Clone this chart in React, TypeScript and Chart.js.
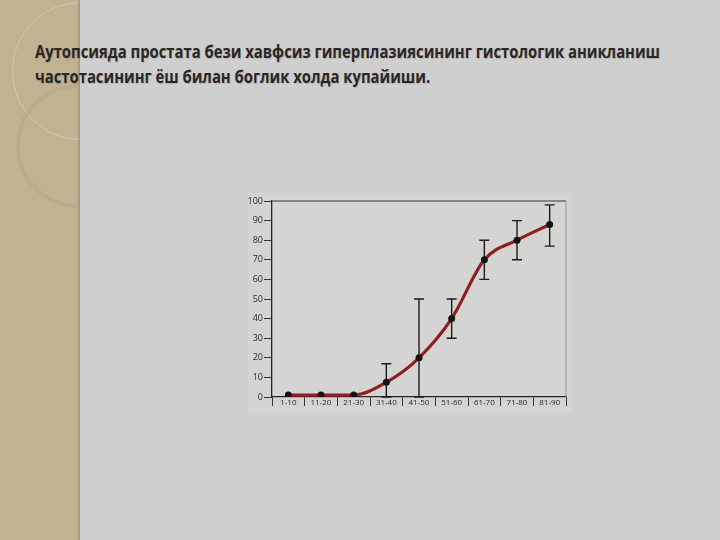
import React, { useEffect, useLayoutEffect, useRef } from "react";
import { Chart, registerables } from "chart.js";

Chart.register(...registerables);

const titleLines = [
  "Аутопсияда простата бези хавфсиз гиперплазиясининг гистологик аникланиш",
  "частотасининг ёш билан боглик холда купайиши.",
];
const categories = ["1-10", "11-20", "21-30", "31-40", "41-50", "51-60", "61-70", "71-80", "81-90"];
const frequency = [1, 1, 1, 7.5, 20, 40, 70, 80, 88];
const errorLow: (number | null)[] = [null, null, null, 0, 0, 30, 60, 70, 77];
const errorHigh: (number | null)[] = [null, null, null, 17, 50, 50, 80, 90, 98];
const yTickValues = [0, 10, 20, 30, 40, 50, 60, 70, 80, 90, 100];

const errorBarPlugin = {
  id: "errorBars",
  beforeDatasetsDraw(chart: any) {
    const { ctx, scales } = chart;
    const xs = scales.x;
    const ys = scales.y;
    ctx.save();
    ctx.strokeStyle = "#1e1a1a";
    ctx.lineWidth = 1.4;
    const cap = 5;
    categories.forEach((c, i) => {
      const lo = errorLow[i];
      const hi = errorHigh[i];
      if (lo == null || hi == null) return;
      const x = xs.getPixelForValue(i);
      const y1 = ys.getPixelForValue(lo);
      const y2 = ys.getPixelForValue(hi);
      ctx.beginPath();
      ctx.moveTo(x, y1);
      ctx.lineTo(x, y2);
      ctx.moveTo(x - cap, y1);
      ctx.lineTo(x + cap, y1);
      ctx.moveTo(x - cap, y2);
      ctx.lineTo(x + cap, y2);
      ctx.stroke();
    });
    ctx.restore();
  },
  afterDraw(chart: any) {
    const { ctx, chartArea } = chart;
    ctx.save();
    ctx.strokeStyle = "#3a3434";
    ctx.lineWidth = 1.2;
    ctx.beginPath();
    ctx.moveTo(chartArea.left, chartArea.top);
    ctx.lineTo(chartArea.right, chartArea.top);
    ctx.stroke();
    ctx.strokeStyle = "#9a9696";
    ctx.lineWidth = 1;
    ctx.beginPath();
    ctx.moveTo(chartArea.right, chartArea.top);
    ctx.lineTo(chartArea.right, chartArea.bottom);
    ctx.stroke();
    ctx.restore();
  },
};

export default function App() {
  const canvasRef = useRef<HTMLCanvasElement | null>(null);
  const titleRef = useRef<HTMLDivElement | null>(null);

  useLayoutEffect(() => {
    document.body.style.margin = "0";
    const el = titleRef.current;
    if (!el) return;
    const first = el.querySelector("span") as HTMLSpanElement | null;
    if (first) {
      const w = first.getBoundingClientRect().width;
      if (w > 0) el.style.transform = `scaleX(${625 / w})`;
    }
  }, []);

  useEffect(() => {
    if (!canvasRef.current) return;
    const chart = new Chart(canvasRef.current, {
      type: "line",
      data: {
        labels: categories,
        datasets: [
          {
            data: frequency,
            borderColor: "#8e1f22",
            borderWidth: 3.2,
            cubicInterpolationMode: "monotone",
            pointRadius: 3.5,
            pointBackgroundColor: "#151212",
            pointBorderColor: "#151212",
            pointBorderWidth: 0,
            fill: false,
          },
        ],
      },
      options: {
        animation: false,
        responsive: false,
        maintainAspectRatio: false,
        layout: { padding: { left: 240, top: 201, right: 154, bottom: 123 } },
        plugins: { legend: { display: false }, tooltip: { enabled: false }, title: { display: false } },
        scales: {
          x: {
            type: "category",
            offset: true,
            grid: {
              display: true,
              offset: true,
              drawOnChartArea: false,
              drawTicks: true,
              tickLength: 9,
              color: "#3a3434",
              lineWidth: 1,
            },
            border: { display: true, color: "#2a2424", width: 1.3 },
            ticks: {
              color: "#2e2a2a",
              font: { family: "Open Sans", size: 8 },
              padding: -8,
              maxRotation: 0,
              autoSkip: false,
            },
            afterFit: (s: any) => {
              s.height = 20;
            },
          },
          y: {
            min: 0,
            max: 100,
            afterBuildTicks: (s: any) => {
              s.ticks = yTickValues.map((v) => ({ value: v }));
            },
            grid: {
              display: true,
              drawOnChartArea: false,
              drawTicks: true,
              tickLength: 8,
              color: "#3a3434",
              lineWidth: 1,
            },
            border: { display: true, color: "#2a2424", width: 1.3 },
            ticks: {
              color: "#2e2a2a",
              font: { family: "Open Sans", size: 9 },
              padding: 1,
            },
            afterFit: (s: any) => {
              s.width = 32;
            },
          },
        },
      },
      plugins: [errorBarPlugin],
    });
    return () => chart.destroy();
  }, []);

  return (
    <div
      style={{
        position: "fixed",
        left: 0,
        top: 0,
        width: 720,
        height: 540,
        background: "#cfcfcf",
        overflow: "hidden",
      }}
    >
      <div
        style={{
          position: "absolute",
          left: 0,
          top: 0,
          width: 78,
          height: 540,
          background: "#c1b292",
          borderRight: "2px solid #a99b7d",
          overflow: "hidden",
        }}
      >
        <div
          style={{
            position: "absolute",
            left: 12,
            top: 2,
            width: 136,
            height: 136,
            borderRadius: "50%",
            border: "1.5px solid rgba(230,222,204,0.45)",
          }}
        />
        <div
          style={{
            position: "absolute",
            left: 16,
            top: 84,
            width: 116,
            height: 116,
            borderRadius: "50%",
            border: "4px solid rgba(175,163,135,0.45)",
          }}
        />
      </div>
      <div
        style={{
          position: "absolute",
          left: 248,
          top: 193,
          width: 324,
          height: 220,
          background: "#d4d4d2",
        }}
      />
      <div
        ref={titleRef}
        style={{
          position: "absolute",
          left: 35,
          top: 39,
          transformOrigin: "0 0",
          fontFamily: "'Open Sans', 'Noto Sans', sans-serif",
          fontWeight: 700,
          fontSize: 17,
          lineHeight: "25px",
          color: "#2b2727",
          whiteSpace: "nowrap",
          textShadow: "1px 1px 1px rgba(0,0,0,0.15)",
        }}
      >
        <span style={{ display: "inline-block" }}>{titleLines[0]}</span>
        <br />
        <span style={{ display: "inline-block" }}>{titleLines[1]}</span>
      </div>
      <canvas
        ref={canvasRef}
        width={720}
        height={540}
        style={{ position: "absolute", left: 0, top: 0, width: 720, height: 540 }}
      />
    </div>
  );
}
